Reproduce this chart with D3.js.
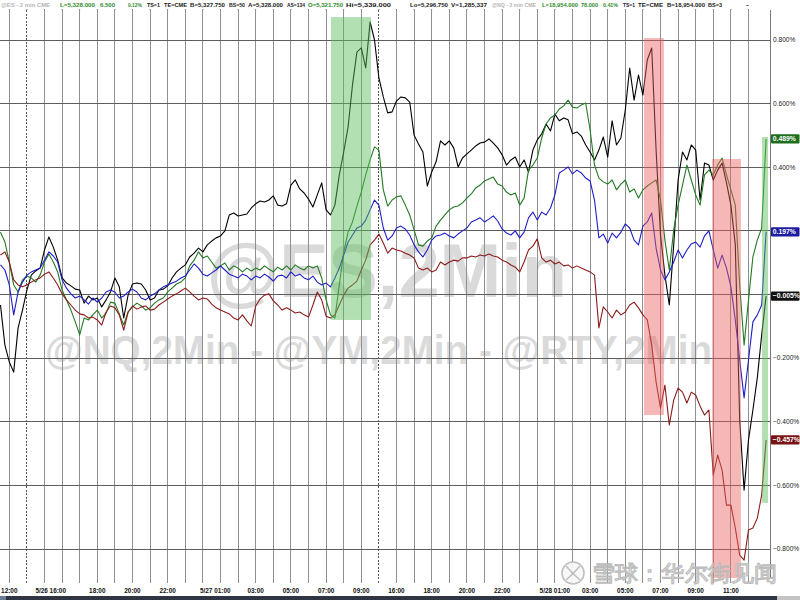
<!DOCTYPE html>
<html><head><meta charset="utf-8">
<script src="https://cdn.jsdelivr.net/npm/d3@7"></script>
<style>
body{margin:0;background:#fff;overflow:hidden}
svg{display:block}
text{font-family:"Liberation Sans",Arial,sans-serif}
</style>
</head><body>
<svg id="chart" width="800" height="600"></svg>
<script>
// ---- DATA ----
const startHour = -0.5, stepHour = 0.25;   // samples every quarter hour on the session-hour axis
const esVals = [-0.033,-0.159,-0.212,-0.244,-0.105,-0.049,0.014,0.061,0.074,0.083,
0.140,0.181,0.149,0.108,0.052,0.036,0.027,0.017,0.014,-0.027,
-0.005,-0.017,-0.011,-0.039,-0.017,0.008,0.052,0.024,-0.074,-0.002,
0.033,0.036,0.033,0.014,-0.017,-0.011,0.014,0.017,0.027,0.052,
0.071,0.083,0.093,0.118,0.130,0.146,0.134,0.156,0.168,0.178,
0.184,0.200,0.250,0.256,0.247,0.250,0.253,0.272,0.285,0.294,
0.291,0.297,0.310,0.281,0.278,0.285,0.344,0.360,0.332,0.319,
0.300,0.275,0.313,0.351,0.266,0.250,0.281,0.376,0.448,0.527,
0.659,0.762,0.775,0.712,0.857,0.800,0.681,0.621,0.571,0.574,
0.608,0.621,0.618,0.605,0.501,0.473,0.448,0.341,0.385,0.417,
0.483,0.470,0.483,0.461,0.401,0.429,0.442,0.454,0.467,0.476,
0.479,0.489,0.476,0.461,0.439,0.407,0.423,0.432,0.401,0.423,
0.385,0.454,0.486,0.505,0.536,0.514,0.567,0.546,0.555,0.549,
0.505,0.511,0.498,0.470,0.448,0.423,0.454,0.495,0.432,0.546,
0.470,0.492,0.580,0.712,0.611,0.690,0.627,0.737,0.775,0.454,
0.187,0.061,-0.033,0.156,0.360,0.448,0.423,0.470,0.454,0.297,
0.413,0.407,0.360,0.391,0.413,0.351,0.281,0.156,-0.395,-0.615,
-0.457,-0.363,-0.262,-0.127,-0.005];
const nqVals = [0.196,0.165,0.102,0.030,0.008,0.046,0.058,0.052,0.039,0.061,
0.102,0.127,0.102,0.071,0.014,-0.017,-0.049,-0.086,-0.127,-0.074,
-0.080,-0.064,-0.049,-0.074,-0.058,-0.024,-0.027,-0.061,-0.096,-0.055,
-0.039,-0.027,-0.036,-0.049,-0.042,-0.027,-0.017,-0.011,0.008,0.020,
0.033,0.039,0.052,0.090,0.108,0.134,0.115,0.121,0.102,0.083,
0.090,0.099,0.077,0.090,0.083,0.071,0.083,0.074,0.083,0.077,
0.090,0.080,0.071,0.086,0.077,0.090,0.077,0.093,0.083,0.077,
0.090,0.083,0.090,0.052,-0.017,-0.064,-0.074,0.030,0.134,0.196,
0.228,0.278,0.322,0.376,0.423,0.464,0.454,0.329,0.278,0.297,
0.307,0.310,0.281,0.250,0.203,0.156,0.152,0.168,0.178,0.215,
0.234,0.250,0.266,0.275,0.278,0.288,0.303,0.316,0.335,0.344,
0.357,0.363,0.369,0.347,0.341,0.322,0.313,0.319,0.281,0.303,
0.391,0.407,0.429,0.492,0.536,0.555,0.564,0.583,0.593,0.611,
0.589,0.586,0.596,0.602,0.517,0.407,0.366,0.354,0.347,0.360,
0.329,0.347,0.360,0.322,0.332,0.303,0.329,0.341,0.351,0.360,
0.297,0.171,0.077,0.203,0.281,0.344,0.407,0.360,0.313,0.281,
0.376,0.391,0.376,0.407,0.429,0.376,0.329,0.281,0.030,-0.159,
-0.017,0.118,0.171,0.209,0.489];
const ymVals = [0.093,0.077,0.030,-0.064,0.008,0.039,0.061,0.071,0.077,0.083,
0.108,0.134,0.121,0.102,0.046,0.020,0.002,-0.011,-0.005,-0.017,
-0.030,-0.011,-0.024,-0.011,0.008,0.014,0.008,-0.011,-0.005,0.008,
0.017,0.008,-0.011,-0.017,-0.005,0.002,0.014,0.024,0.030,0.036,
0.042,0.052,0.058,0.077,0.096,0.083,0.064,0.058,0.068,0.077,
0.090,0.077,0.064,0.058,0.052,0.064,0.058,0.046,0.058,0.052,
0.064,0.055,0.042,0.058,0.061,0.052,0.071,0.058,0.064,0.052,
0.046,0.058,0.039,0.030,0.036,0.024,0.052,0.083,0.124,0.165,
0.187,0.209,0.215,0.234,0.266,0.297,0.281,0.209,0.171,0.184,
0.209,0.215,0.206,0.187,0.156,0.134,0.118,0.140,0.171,0.184,
0.187,0.193,0.184,0.178,0.190,0.200,0.209,0.228,0.234,0.241,
0.228,0.237,0.247,0.231,0.206,0.193,0.187,0.200,0.178,0.196,
0.241,0.259,0.234,0.259,0.250,0.272,0.313,0.382,0.391,0.401,
0.379,0.391,0.382,0.366,0.357,0.297,0.178,0.190,0.162,0.193,
0.178,0.196,0.222,0.209,0.171,0.156,0.215,0.228,0.256,0.146,
0.077,0.046,0.071,0.102,0.140,0.115,0.140,0.159,0.165,0.149,
0.184,0.200,0.140,0.083,0.124,0.083,0.024,-0.080,-0.206,-0.325,
-0.206,-0.086,-0.064,-0.033,0.197];
const rtyVals = [0.124,0.134,0.102,0.046,0.030,0.024,0.030,0.039,0.046,0.052,
0.064,0.071,0.052,0.030,0.002,-0.017,-0.033,-0.049,-0.061,-0.064,
-0.074,-0.071,-0.080,-0.096,-0.055,-0.036,-0.042,-0.064,-0.112,-0.055,
-0.036,-0.046,-0.039,-0.036,-0.049,-0.046,-0.033,-0.024,-0.014,-0.005,
0.002,0.011,0.020,0.008,-0.005,-0.017,-0.011,-0.014,-0.030,-0.042,
-0.049,-0.055,-0.061,-0.074,-0.080,-0.064,-0.083,-0.099,-0.036,-0.014,
-0.002,0.002,-0.020,-0.033,-0.049,-0.042,-0.049,-0.058,-0.055,-0.064,
-0.071,-0.033,0.008,-0.017,-0.068,-0.074,-0.064,-0.033,-0.002,0.020,
0.030,0.042,0.077,0.108,0.156,0.171,0.190,0.162,0.130,0.146,
0.140,0.137,0.130,0.124,0.115,0.083,0.077,0.083,0.071,0.077,
0.102,0.093,0.102,0.108,0.105,0.115,0.115,0.121,0.118,0.124,
0.121,0.127,0.121,0.118,0.108,0.102,0.093,0.086,0.071,0.102,
0.140,0.152,0.175,0.115,0.102,0.108,0.096,0.102,0.090,0.093,
0.083,0.090,0.083,0.077,0.071,0.061,-0.105,-0.039,-0.055,-0.074,
-0.049,-0.064,-0.055,-0.033,-0.024,-0.042,-0.064,-0.080,-0.159,-0.275,
-0.357,-0.285,-0.410,-0.332,-0.294,-0.307,-0.341,-0.307,-0.316,-0.351,
-0.379,-0.363,-0.567,-0.505,-0.552,-0.662,-0.662,-0.734,-0.819,-0.835,
-0.740,-0.734,-0.703,-0.630,-0.457];

const seriesNames = ["@ES","@NQ","@YM","@RTY"];
const seriesColors = ["#000000","#237a23","#1e1ec8","#8b1c1c"];
const labelColors = ["#111111","#1e6e1e","#1c1ca0","#7a1414"];

const hourTickVals = [0,2.35,5,7,9,11.7,14,16,18,20,22,24,26,28,31,33,35,37,39,41];
const hourTickLabels = ["12:00","5/26 16:00","18:00","20:00","22:00","5/27 01:00","03:00","05:00","07:00","09:00",
                        "16:00","18:00","20:00","22:00","5/28 01:00","03:00","05:00","07:00","09:00","11:00"];
const sessionBreaks = [1,21];
const pctTicks = [-0.8,-0.6,-0.4,-0.2,0,0.2,0.4,0.6,0.8];

// highlight zones
const zoneHourFrom = [18.28, 36.06, 39.93, 42.77];
const zoneHourTo   = [20.55, 37.19, 41.57, 43.11];
const zoneHigh     = [0.872, 0.806, 0.426, 0.495];
const zoneLow      = [-0.080, -0.379, -0.891, -0.655];
const zoneKind     = ["up","down","down","up"];

const headerParts = [
 ["@ES - 2 min CME","gray"],["L=5,328.000","green"],["6.500","green"],["0.12%","green"],
 ["TS=1","dark"],["TE=CME","dark"],["B=5,327.750","dark"],["BS=50","dark"],["A=5,328.000","dark"],
 ["AS=134","dark"],["O=5,321.750","green"],["Hi=5,339.000","dark"],["Lo=5,296.750","dark"],
 ["V=1,285,337","dark"],["@NQ - 2 min CME","gray"],["L=18,954.000","green"],["78.000","green"],
 ["0.41%","green"],["TS=1","dark"],["TE=CME","dark"],["B=18,954.000","dark"],["BS=3","dark"],["-","dark"]];
const headerX = [1,60,100,128,147,164,190,229,248,287,308,346,410,451,492,542,581,603,623,638,667,708,746];
const headerW = [49,35,15,14,13,23,35,16,35,18,35,45,38,36,44,36,17,15,12,25,38,14,3];

// ---- CHART ----
const svg = d3.select("#chart");
const W = 800, H = 600;
const plotTop = 10, plotBottom = 578, plotRight = 770;
const x = d3.scaleLinear().domain([0,42]).range([9.3,748.5]);
const y = d3.scaleLinear().domain([-0.8,0.8]).range([549,40]);

svg.append("rect").attr("width",W).attr("height",H).attr("fill","#fff");

// watermarks (under grid)
svg.append("text").attr("x",207).attr("y",297).attr("font-size",76).attr("font-weight","bold")
  .attr("fill","#dadada").attr("textLength",360).attr("lengthAdjust","spacingAndGlyphs").text("@ES,2Min");
svg.append("text").attr("x",45).attr("y",364).attr("font-size",41).attr("font-weight","bold")
  .attr("fill","#dadada").attr("textLength",667).attr("lengthAdjust","spacingAndGlyphs")
  .text("@NQ,2Min - @YM,2Min - @RTY,2Min");

// vertical grid
const hours = d3.range(0,43);
svg.append("g").selectAll("line").data(hours).join("line")
  .attr("x1",d=>x(d)).attr("x2",d=>x(d)).attr("y1",plotTop).attr("y2",583)
  .attr("stroke",d=>sessionBreaks.includes(d)?"#555":"#8f8f8f")
  .attr("stroke-width",1)
  .attr("stroke-dasharray",d=>sessionBreaks.includes(d)?"2,1.5":null)
  .attr("shape-rendering","crispEdges");

// horizontal grid
svg.append("g").selectAll("line").data(pctTicks).join("line")
  .attr("x1",0).attr("x2",plotRight).attr("y1",d=>y(d)).attr("y2",d=>y(d))
  .attr("stroke","#5e5e5e").attr("stroke-width",1).attr("shape-rendering","crispEdges");

// series lines
svg.append("clipPath").attr("id","clp").append("rect")
  .attr("x",0).attr("y",plotTop).attr("width",plotRight).attr("height",plotBottom-plotTop);
const line = d3.line().x((d,i)=>x(startHour+i*stepHour)).y(d=>y(d));
const allSeries = [esVals,nqVals,ymVals,rtyVals];
svg.append("g").attr("clip-path","url(#clp)").selectAll("path").data(allSeries).join("path")
  .attr("d",line).attr("fill","none")
  .attr("stroke",(d,i)=>seriesColors[i]).attr("stroke-width",1.1).attr("stroke-linejoin","round");

// highlight zones drawn over the lines
svg.append("g").selectAll("rect").data(zoneKind).join("rect")
  .attr("x",(d,i)=>x(zoneHourFrom[i])).attr("width",(d,i)=>x(zoneHourTo[i])-x(zoneHourFrom[i]))
  .attr("y",(d,i)=>y(zoneHigh[i])).attr("height",(d,i)=>y(zoneLow[i])-y(zoneHigh[i]))
  .attr("fill",d=>d==="up"?"rgb(95,190,95)":"rgb(236,95,95)")
  .attr("fill-opacity",d=>d==="up"?0.48:0.45);

// right axis
const lastVals = allSeries.map(s=>s[s.length-1]);
svg.append("line").attr("x1",plotRight+0.5).attr("x2",plotRight+0.5).attr("y1",plotTop).attr("y2",plotBottom)
  .attr("stroke","#777");
// tick labels hidden behind a last-value box are not shown (as in the original)
const visibleTicks = pctTicks.filter(t=>lastVals.every(v=>Math.abs(y(v)-y(t))>8));
svg.append("g").selectAll("text").data(visibleTicks).join("text")
  .attr("x",773).attr("y",d=>y(d)+2.3).attr("font-size",6.6).attr("fill","#222")
  .text(d=>d3.format(".3f")(d)+"%");

// last value boxes
const vb = svg.append("g").selectAll("g").data(lastVals).join("g")
  .attr("transform",d=>`translate(771,${y(d)})`);
vb.append("rect").attr("x",0).attr("y",-4.6).attr("width",28.5).attr("height",9.2).attr("rx",1)
  .attr("fill",(d,i)=>labelColors[i]);
vb.append("text").attr("x",1.8).attr("y",2.4).attr("font-size",6.8).attr("font-weight","bold")
  .attr("fill","#fff").text(d=>d3.format(".3f")(d)+"%");

// bottom axis labels
svg.append("g").selectAll("text").data(hourTickVals).join("text")
  .attr("x",d=>x(d)).attr("y",592.5).attr("text-anchor","middle")
  .attr("font-size",6.4).attr("font-weight","bold").attr("fill","#111")
  .text((d,i)=>hourTickLabels[i]);

// header
const hdrColor = {gray:"#b5b5b5",green:"#2e8b2e",dark:"#1a1a1a"};
svg.append("rect").attr("x",0).attr("y",0).attr("width",W).attr("height",plotTop).attr("fill","#fff");
svg.append("g").selectAll("line").data(hours).join("line")
  .attr("x1",d=>x(d)).attr("x2",d=>x(d)).attr("y1",9).attr("y2",plotTop)
  .attr("stroke","#777");
svg.append("g").selectAll("text").data(headerParts).join("text")
  .attr("x",(d,i)=>headerX[i]).attr("y",7.4).attr("font-size",6.2).attr("font-weight","bold")
  .attr("textLength",(d,i)=>headerW[i]).attr("lengthAdjust","spacingAndGlyphs")
  .attr("fill",d=>hdrColor[d[1]]).text(d=>d[0]);

// bottom bar
svg.append("rect").attr("x",0).attr("y",596).attr("width",W).attr("height",4).attr("fill","#2f3542");
svg.append("rect").attr("x",0).attr("y",596).attr("width",6).attr("height",4).attr("fill","#6d7d95");
svg.append("rect").attr("x",777).attr("y",596).attr("width",23).attr("height",4).attr("fill","#c4c4c4");

// corner watermark
const wm = svg.append("g").attr("opacity",0.95);
wm.append("circle").attr("cx",573).attr("cy",573).attr("r",11).attr("fill","#f8f8f8")
  .attr("stroke","#bdbdbd").attr("stroke-width",1.6);
wm.append("path").attr("d","M566,566 Q573,574 580,580 M580,566 Q573,574 566,580")
  .attr("fill","none").attr("stroke","#bdbdbd").attr("stroke-width",1.6);
wm.append("text").attr("x",592).attr("y",581).attr("font-size",22)
  .attr("font-family","'Noto Sans CJK SC',sans-serif")
  .attr("fill","#efefef").attr("stroke","#b9b9b9").attr("stroke-width",1.1)
  .attr("textLength",185).attr("lengthAdjust","spacingAndGlyphs").text("雪球：华尔街见闻");
</script>
</body></html>
